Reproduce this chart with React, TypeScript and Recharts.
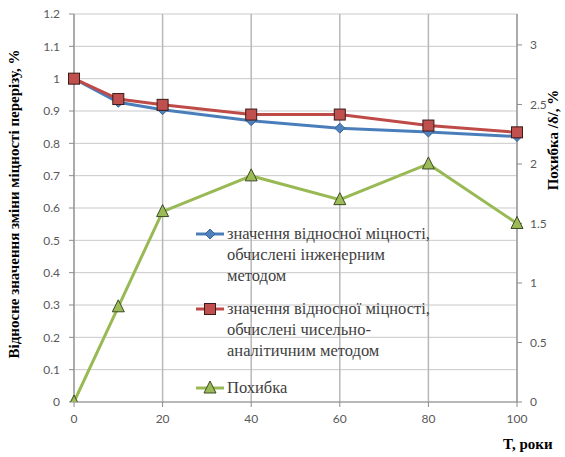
import React from 'react';
import { LineChart, Line, XAxis, YAxis, CartesianGrid, ReferenceLine } from 'recharts';

const years = [0, 10, 20, 40, 60, 80, 100];
const engineering = [1, 0.927, 0.904, 0.87, 0.847, 0.835, 0.821];
const numerical = [1, 0.937, 0.919, 0.889, 0.889, 0.855, 0.834];
const errorPct = [0, 0.8, 1.6, 1.9, 1.7, 2.0, 1.5];

const xTicks = [0, 20, 40, 60, 80, 100];
const leftTicks = [0, 0.1, 0.2, 0.3, 0.4, 0.5, 0.6, 0.7, 0.8, 0.9, 1, 1.1, 1.2];
const rightTicks = [0, 0.5, 1, 1.5, 2, 2.5, 3];

const seriesNames = [
  ['значення відносної міцності,', 'обчислені інженерним', 'методом'],
  ['значення відносної міцності,', 'обчислені чисельно-', 'аналітичним методом'],
  ['Похибка'],
];

const yLeftTitle = 'Відносне значення зміни міцності перерізу, %';
const yRightTitle = 'Похибка /δ/, %';
const xTitle = 'T, роки';

const data = years.map((t, i) => ({
  t,
  eng: engineering[i],
  num: numerical[i],
  err: errorPct[i],
}));

const BLUE = '#4a7ebb';
const RED = '#be4b48';
const GREEN = '#98b954';
const AXIS = '#8c8c8c';
const GRID = '#c9c9c9';
const TICK_FONT = { fill: '#595959', fontSize: 12, fontFamily: 'Lato, sans-serif' };

function Diamond({ cx, cy }: any) {
  if (cx == null || cy == null) return null;
  const r = 5;
  return (
    <polygon
      points={`${cx},${cy - r} ${cx + r},${cy} ${cx},${cy + r} ${cx - r},${cy}`}
      fill="#4f81bd"
      stroke="#3a6496"
      strokeWidth={1}
    />
  );
}

function Square({ cx, cy }: any) {
  if (cx == null || cy == null) return null;
  const s = 11;
  return <rect x={cx - s / 2} y={cy - s / 2} width={s} height={s} fill="#c0504d" stroke="#3b1a19" strokeWidth={1} />;
}

function Triangle({ cx, cy }: any) {
  if (cx == null || cy == null) return null;
  return (
    <polygon
      points={`${cx},${cy - 7} ${cx + 6},${cy + 5} ${cx - 6},${cy + 5}`}
      fill="#9bbb59"
      stroke="#3d4a22"
      strokeWidth={1}
    />
  );
}

const icons = [Diamond, Square, Triangle];
const colors = [BLUE, RED, GREEN];

// legend drawn over the plot area, like the Excel original
function LegendBox() {
  const tops = [0, 75, 154];
  return (
    <div style={{ position: 'absolute', left: 195, top: 223, width: 290, height: 175 }}>
      {seriesNames.map((lines, i) => {
        const Icon = icons[i];
        return (
          <div key={i} style={{ position: 'absolute', left: 0, top: tops[i] }}>
            <svg width={30} height={22} style={{ position: 'absolute', left: 0, top: 0 }}>
              <line x1={1} y1={11} x2={29} y2={11} stroke={colors[i]} strokeWidth={3} />
              <Icon cx={15} cy={11} />
            </svg>
            <div
              style={{
                position: 'absolute',
                left: 32,
                top: 0,
                whiteSpace: 'nowrap',
                fontFamily: '"Liberation Serif", serif',
                fontSize: 16.5,
                lineHeight: '21px',
                color: '#404040',
              }}
            >
              {lines.map((l, j) => (
                <div key={j}>{l}</div>
              ))}
            </div>
          </div>
        );
      })}
    </div>
  );
}

export default function App() {
  const titleStyle: React.CSSProperties = {
    position: 'absolute',
    fontFamily: '"Liberation Serif", serif',
    fontWeight: 'bold',
    fontSize: 15,
    color: '#000',
    whiteSpace: 'nowrap',
  };
  return (
    <div style={{ position: 'absolute', left: 0, top: 0, width: 565, height: 457, background: '#fff', overflow: 'hidden' }}>
      <LineChart width={565} height={457} data={data} margin={{ top: 14, right: 8, left: 34, bottom: 25 }}>
        <CartesianGrid stroke={GRID} yAxisId="left" vertical={false} />
        <XAxis
          dataKey="t"
          type="number"
          domain={[0, 100]}
          ticks={xTicks}
          stroke={AXIS}
          tickSize={5}
          tickMargin={7}
          tick={TICK_FONT}
          height={30}
        />
        <YAxis
          yAxisId="left"
          domain={[0, 1.2]}
          ticks={leftTicks}
          stroke={AXIS}
          tickSize={5}
          tickMargin={9}
          tick={TICK_FONT}
          width={40}
          interval={0}
        />
        <YAxis
          yAxisId="right"
          orientation="right"
          domain={[0, 3.26]}
          ticks={rightTicks}
          stroke={AXIS}
          tickSize={5}
          tickMargin={8}
          tick={TICK_FONT}
          width={40}
          interval={0}
          allowDataOverflow
        />
        {xTicks.map((t) => (
          <ReferenceLine key={t} x={t} yAxisId="left" stroke="#b8b8b8" strokeWidth={1.5} />
        ))}
        <Line
          yAxisId="left"
          dataKey="eng"
          stroke={BLUE}
          strokeWidth={3}
          dot={<Diamond />}
          activeDot={false}
          isAnimationActive={false}
        />
        <Line
          yAxisId="left"
          dataKey="num"
          stroke={RED}
          strokeWidth={3}
          dot={<Square />}
          activeDot={false}
          isAnimationActive={false}
        />
        <Line
          yAxisId="right"
          dataKey="err"
          stroke={GREEN}
          strokeWidth={3}
          dot={<Triangle />}
          activeDot={false}
          isAnimationActive={false}
        />
      </LineChart>
      <LegendBox />
      <div style={{ ...titleStyle, left: 14, top: 204, transform: 'translate(-50%, -50%) rotate(-90deg)' }}>{yLeftTitle}</div>
      <div style={{ ...titleStyle, left: 553, top: 140, transform: 'translate(-50%, -50%) rotate(-90deg)' }}>{yRightTitle}</div>
      <div style={{ ...titleStyle, left: 503, top: 436 }}>{xTitle}</div>
    </div>
  );
}
